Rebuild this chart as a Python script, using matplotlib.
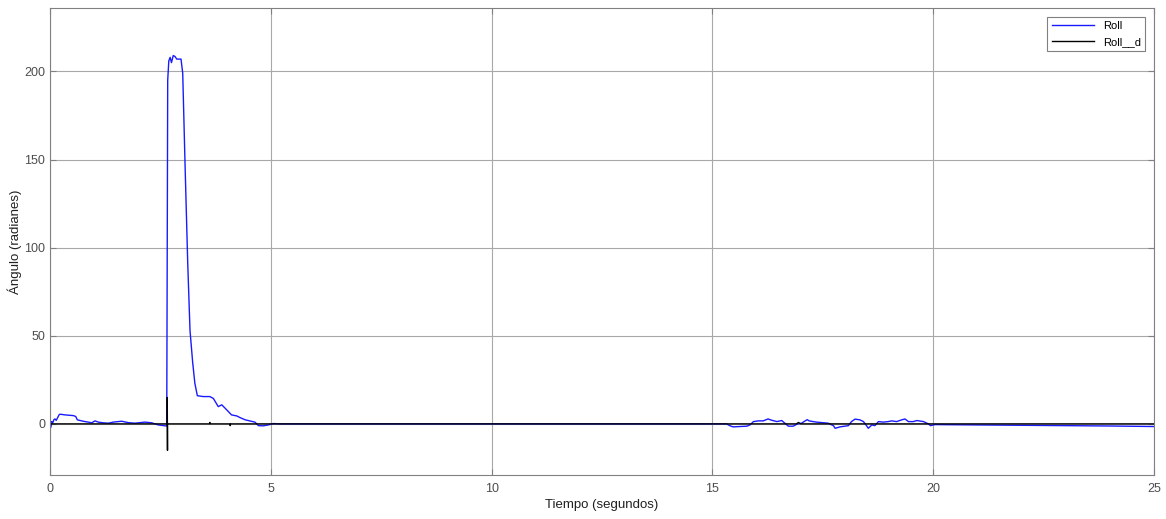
import numpy as np
import matplotlib.pyplot as plt

plt.rcParams['font.family'] = ['Liberation Sans', 'DejaVu Sans']

# Roll (blue) response, time in seconds and angle
t_roll = [0.0, 0.023, 0.038, 0.06, 0.09, 0.113, 0.14, 0.174, 0.204, 0.226, 0.34, 0.528, 0.582,
          0.618, 0.718, 0.793, 0.867, 0.944, 1.019, 1.094, 1.207, 1.32, 1.433, 1.624, 1.773,
          1.925, 2.151, 2.303, 2.452, 2.604, 2.643, 2.665, 2.69, 2.72, 2.75, 2.79, 2.83, 2.87,
          2.966, 3.005, 3.057, 3.118, 3.17, 3.23, 3.28, 3.336, 3.47, 3.62, 3.70, 3.81, 3.89,
          4.0, 4.11, 4.23, 4.30, 4.42, 4.64, 4.72, 4.83, 4.94, 5.06, 5.21, 6.0, 8.0, 10.0,
          12.0, 14.0, 15.0, 15.32, 15.40, 15.47, 15.62, 15.78, 15.85, 15.93, 16.04, 16.15,
          16.26, 16.34, 16.46, 16.57, 16.64, 16.72, 16.83, 16.91, 17.02, 17.10, 17.15, 17.19,
          17.28, 17.36, 17.62, 17.74, 17.78, 17.89, 18.08, 18.15, 18.23, 18.34, 18.42, 18.49,
          18.53, 18.61, 18.68, 18.76, 18.87, 18.98, 19.06, 19.17, 19.29, 19.36, 19.44, 19.55,
          19.63, 19.78, 19.89, 19.94, 20.04, 21.0, 22.0, 23.0, 24.0, 25.0]
roll = [-3.0, -1.5, 1.3, 0.5, 2.5, 2.8, 2.0, 3.6, 5.1, 5.5, 5.1, 4.7, 4.2,
        2.3, 1.7, 1.3, 1.0, 0.6, 1.7, 1.0, 0.6, 0.4, 1.0, 1.5, 0.7,
        0.4, 1.0, 0.6, -0.6, -1.1, -1.2, 195.0, 206.0, 208.0, 205.0, 209.0, 208.5, 207.0,
        207.0, 199.0, 148.0, 91.5, 53.0, 35.0, 23.0, 16.0, 15.5, 15.5, 14.4, 9.8, 10.8,
        8.0, 5.1, 4.5, 3.6, 2.3, 1.0, -1.0, -1.1, -0.6, 0.2, 0.0, 0.0, 0.0, 0.0,
        0.0, 0.0, 0.0, 0.0, -1.1, -1.7, -1.5, -1.3, -0.6, 1.3, 1.7, 1.7,
        2.8, 2.1, 1.3, 1.9, 0.4, -1.3, -1.3, -0.2, 0.4, 1.7, 2.4, 1.7,
        1.3, 1.0, 0.4, -1.0, -2.5, -1.7, -1.0, 1.3, 2.7, 2.3, 1.3, -1.0,
        -2.5, -0.6, -1.0, 1.3, 1.0, 1.3, 1.7, 1.3, 2.3, 2.8, 1.3, 1.3,
        1.9, 1.3, 0.0, -1.0, -0.4, -0.6, -0.8, -1.0, -1.2, -1.5]

# Roll_d (black) reference
t_ref = [0.0, 2.655, 2.655, 2.66, 2.66, 3.61, 3.62, 3.63, 4.07, 4.08, 4.09,
         16.9, 16.95, 17.0, 25.0]
roll_ref = [0.0, 0.0, 15.0, -15.0, 0.0, 0.0, 0.8, 0.0, 0.0, -1.0, 0.0,
            0.0, 0.8, 0.0, 0.0]

fig = plt.figure(figsize=(11.66, 5.19), dpi=100)
ax = fig.add_axes([0.0429, 0.0848, 0.9468, 0.8998])

ax.plot(t_roll, roll, color='#1a1aff', lw=1.0, label='Roll')
ax.plot(t_ref, roll_ref, color='black', lw=1.0, label='Roll__d')

ax.set_xlim(0, 25)
ax.set_ylim(-29, 236)
ax.set_xticks([0, 5, 10, 15, 20, 25])
ax.set_yticks([0, 50, 100, 150, 200])
ax.grid(True, color='#a8a8a8', lw=0.8)
ax.set_axisbelow(True)

for s in ax.spines.values():
    s.set_color('#808080')
    s.set_linewidth(0.8)
ax.tick_params(direction='in', length=4, colors='#808080', labelcolor='#4d4d4d',
               labelsize=9, top=True, right=True)
ax.tick_params(axis='x', pad=6)

ax.set_xlabel('Tiempo (segundos)', fontsize=9.5, color='#202020', labelpad=3)
ax.set_ylabel('Ángulo (radianes)', fontsize=9.5, color='#202020')
ax.yaxis.set_label_coords(-0.025, 0.5)

leg = ax.legend(loc='upper right', fontsize=8, fancybox=False, framealpha=1,
                edgecolor='#808080', handlelength=3.8, borderaxespad=0.8)
leg.get_frame().set_linewidth(0.8)

fig.savefig('out.png', dpi=100)
